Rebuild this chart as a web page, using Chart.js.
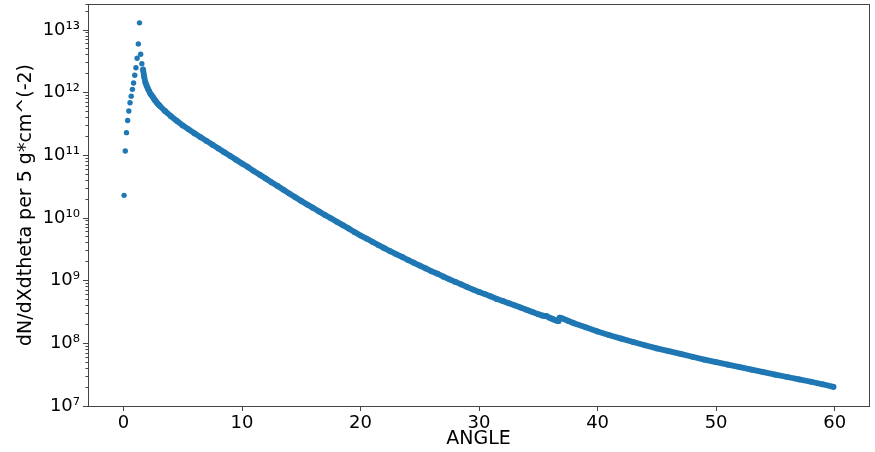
<!DOCTYPE html>
<html>
<head>
<meta charset="utf-8">
<script src="https://cdn.jsdelivr.net/npm/chart.js@4.4.1/dist/chart.umd.min.js"></script>
<style>
    html, body { margin: 0; padding: 0; background: #fff; }
    #wrap { width: 875px; height: 452px; }
</style>
</head>
<body>
<div id="wrap"><canvas id="chart"></canvas></div>
<script>
    /*
        ----------> DATA <----------
    */

    // rising part, separate dots before the peak
    const risingAngle = [0.05, 0.15, 0.25, 0.35, 0.45, 0.55, 0.65, 0.75, 0.85, 0.95, 1.05, 1.15, 1.25, 1.35, 1.45, 1.55];
    const risingFlux = [2.3e10, 1.17e11, 2.3e11, 3.6e11, 5.1e11, 6.9e11, 8.8e11, 1.13e12, 1.43e12, 1.9e12, 2.5e12, 3.55e12, 6.0e12, 1.3e13, 4.1e12, 2.9e12];

    // falling part, dense band after the peak
    const fallingAngle = [1.65, 1.75, 1.85, 1.95, 2.05, 2.15, 2.25, 2.35, 2.45, 2.55, 2.65, 2.75, 2.85, 2.95, 3.05,
        3.5, 4, 4.5, 5, 5.5, 6, 6.5, 7, 7.5, 8, 8.5, 9, 9.5, 10, 10.5, 11, 11.5, 12, 12.5, 13, 13.5, 14, 14.5, 15,
        15.5, 16, 16.5, 17, 17.5, 18, 18.5, 19, 19.5, 20, 20.5, 21, 21.5, 22, 22.5, 23, 23.5, 24, 24.5, 25, 25.5,
        26, 26.5, 27, 27.5, 28, 28.5, 29, 29.5, 30, 30.5, 31, 31.5, 32, 32.5, 33, 33.5, 34, 34.5, 35,
        35.3, 35.5, 35.7, 35.9, 36.1, 36.3, 36.5, 36.7, 36.8, 37, 37.5, 38,
        39, 40, 41, 42, 43, 44, 45, 46, 47, 48, 49, 50, 51, 52, 53, 54, 55, 56, 57, 58, 59, 59.9];
    const fallingFlux = [2.34e12, 1.78e12, 1.45e12, 1.29e12, 1.17e12, 1.07e12, 9.77e11, 9.2e11, 8.7e11, 8.1e11, 7.6e11, 7.2e11, 6.8e11, 6.5e11, 6.2e11,
        5.1e11, 4.22e11, 3.55e11, 3.0e11, 2.6e11, 2.24e11, 1.95e11, 1.70e11, 1.48e11, 1.29e11, 1.12e11, 9.8e10, 8.5e10, 7.4e10, 6.5e10, 5.6e10, 4.9e10, 4.27e10, 3.7e10, 3.24e10, 2.82e10, 2.45e10, 2.14e10, 1.87e10,
        1.64e10, 1.45e10, 1.27e10, 1.12e10, 9.9e9, 8.7e9, 7.7e9, 6.8e9, 5.95e9, 5.25e9, 4.7e9, 4.17e9, 3.7e9, 3.3e9, 2.95e9, 2.66e9, 2.4e9, 2.14e9, 1.93e9, 1.74e9, 1.57e9,
        1.41e9, 1.29e9, 1.16e9, 1.05e9, 9.55e8, 8.7e8, 7.9e8, 7.2e8, 6.6e8, 6.1e8, 5.6e8, 5.1e8, 4.75e8, 4.37e8, 4.04e8, 3.72e8, 3.44e8, 3.16e8, 2.92e8,
        2.79e8, 2.74e8, 2.72e8, 2.58e8, 2.49e8, 2.40e8, 2.32e8, 2.26e8, 2.57e8, 2.51e8, 2.29e8, 2.09e8,
        1.80e8, 1.55e8, 1.35e8, 1.19e8, 1.05e8, 9.3e7, 8.3e7, 7.5e7, 6.8e7, 6.1e7, 5.5e7, 5.0e7, 4.57e7, 4.17e7, 3.8e7, 3.47e7, 3.16e7, 2.9e7, 2.66e7, 2.44e7, 2.22e7, 2.02e7];

    // y tick labels (decades)
    const yTickExponents = [7, 8, 9, 10, 11, 12, 13];
    const yTickLabels = ["10⁷", "10⁸", "10⁹", "10¹⁰", "10¹¹", "10¹²", "10¹³"];

    /*
        ----------> HELPERS <----------
    */

    const FONT = "'DejaVu Sans', sans-serif";
    const BLUE = "#1f77b4";
    const AXIS = "#444";

    function decadeOf(value) {
        const lg = Math.log10(value);
        const e = Math.round(lg);
        return Math.abs(lg - e) < 1e-6 ? e : null;
    }

    function mantissaOf(value) {
        return value / Math.pow(10, Math.floor(Math.log10(value) + 1e-9));
    }

    const framePlugin = {
        id: "frame",
        afterDraw(chart) {
            const {ctx, chartArea: a} = chart;
            ctx.save();
            ctx.strokeStyle = AXIS;
            ctx.lineWidth = 1;
            ctx.strokeRect(Math.round(a.left) + 0.5, Math.round(a.top) + 0.5, Math.round(a.right - a.left), Math.round(a.bottom - a.top));
            ctx.restore();
        }
    };

    /*
        ----------> CHART <----------
    */

    new Chart(document.getElementById("chart"), {
        type: "scatter",
        data: {
            datasets: [
                {
                    data: risingAngle.map((a, i) => ({x: a, y: risingFlux[i]})),
                    showLine: false,
                    pointRadius: 2.7,
                    pointBorderWidth: 0,
                    backgroundColor: BLUE,
                    borderColor: BLUE,
                },
                {
                    data: fallingAngle.map((a, i) => ({x: a, y: fallingFlux[i]})),
                    showLine: true,
                    borderWidth: 5.8,
                    borderJoinStyle: "round",
                    borderCapStyle: "round",
                    pointRadius: 2.9,
                    pointBorderWidth: 0,
                    backgroundColor: BLUE,
                    borderColor: BLUE,
                },
            ],
        },
        options: {
            responsive: true,
            maintainAspectRatio: false,
            animation: false,
            devicePixelRatio: 1,
            layout: {padding: {top: 4, right: 6, left: 0, bottom: 0}},
            plugins: {
                legend: {display: false},
                tooltip: {enabled: false},
            },
            scales: {
                x: {
                    type: "linear",
                    min: -2.995,
                    max: 62.9,
                    border: {color: AXIS, width: 1},
                    grid: {drawOnChartArea: false, tickLength: 5, tickColor: AXIS},
                    ticks: {
                        stepSize: 10,
                        includeBounds: false,
                        maxRotation: 0,
                        padding: 2,
                        color: "#000",
                        font: {family: FONT, size: 18},
                    },
                    title: {
                        display: true,
                        text: "ANGLE",
                        color: "#000",
                        font: {family: FONT, size: 19},
                        padding: {top: 0, bottom: 2},
                    },
                    afterFit: scale => {
                        scale.height = 46;
                        scale.paddingLeft = 0;
                        scale.paddingRight = 0;
                    },
                },
                y: {
                    type: "logarithmic",
                    min: 1e7,
                    max: 2.6e13,
                    border: {color: AXIS, width: 1},
                    grid: {
                        drawOnChartArea: false,
                        tickLength: 5,
                        tickColor: ctx => {
                            const m = mantissaOf(ctx.tick.value);
                            return Math.abs(m - 1.5) < 0.01 ? "rgba(0,0,0,0)" : AXIS;
                        },
                        tickBorderDash: ctx => decadeOf(ctx.tick.value) !== null ? [] : [0, 2.5, 2.5, 10],
                    },
                    ticks: {
                        autoSkip: false,
                        padding: 3,
                        color: "#000",
                        font: {family: FONT, size: 18},
                        callback: value => {
                            const e = decadeOf(value);
                            const idx = yTickExponents.indexOf(e);
                            return idx >= 0 ? yTickLabels[idx] : "";
                        },
                    },
                    title: {
                        display: true,
                        text: "dN/dXdtheta per 5 g*cm^(-2)",
                        color: "#000",
                        font: {family: FONT, size: 19},
                        padding: {top: 15, bottom: 0},
                    },
                    afterFit: scale => {
                        scale.width = 88;
                        scale.paddingTop = 0;
                        scale.paddingBottom = 0;
                    },
                },
            },
        },
        plugins: [framePlugin],
    });
</script>
</body>
</html>
